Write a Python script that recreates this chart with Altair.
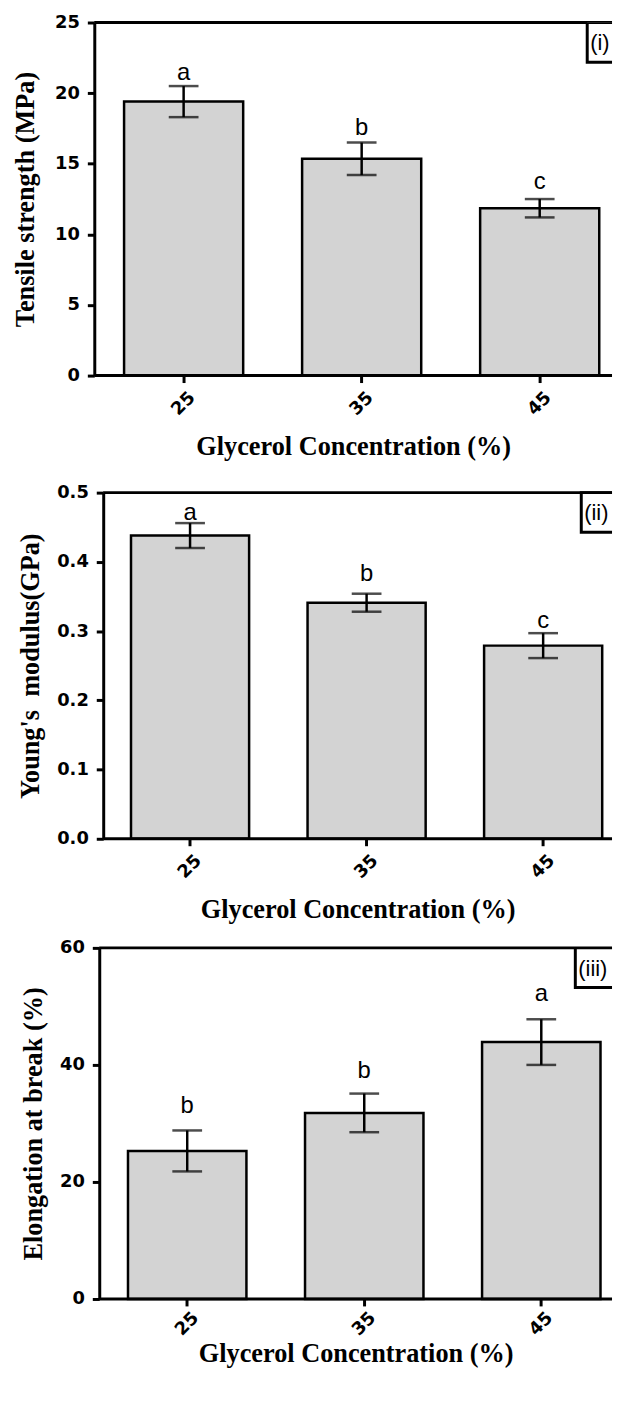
import altair as alt
import pandas as pd

# ---------------- data ----------------
concentration = ["25", "35", "45"]

tensile_mean = [19.4, 15.35, 11.85]
tensile_sd = [1.1, 1.15, 0.65]
tensile_letters = ["a", "b", "c"]
tensile_letter_y = [20.9, 17.0, 13.2]

young_mean = [0.438, 0.341, 0.279]
young_sd = [0.018, 0.013, 0.018]
young_letters = ["a", "b", "c"]
young_letter_y = [0.46, 0.372, 0.305]

elong_mean = [25.3, 31.8, 43.9]
elong_sd = [3.5, 3.3, 3.9]
elong_letters = ["b", "b", "a"]
elong_letter_y = [31.8, 37.7, 51.0]

tensile_ticks = [0, 5, 10, 15, 20, 25]
young_ticks = [0.0, 0.1, 0.2, 0.3, 0.4, 0.5]
elong_ticks = [0, 20, 40, 60]

x_title = "Glycerol Concentration (%)"

W = 522


def panel(means, sds, letters, letter_y, ticks, fmt, ytitle, tag,
          shift, top, height, p_outer, align, box_x, tpad, xlpad, xtpad):
    df = pd.DataFrame({
        "conc": concentration,
        "mean": means,
        "lo": [m - s for m, s in zip(means, sds)],
        "hi": [m + s for m, s in zip(means, sds)],
        "letter": letters,
        "ly": letter_y,
    })
    ymax = ticks[-1]
    x = alt.X(
        "conc:N", sort=concentration,
        scale=alt.Scale(range=[shift, W], paddingInner=0.331, paddingOuter=p_outer,
                        align=align),
        axis=alt.Axis(title=x_title, labelAngle=-45, labelAlign="center",
                      labelBaseline="middle", labelPadding=xlpad, domain=False,
                      titlePadding=xtpad),
    )
    yscale = alt.Scale(domain=[0, ymax], nice=False, zero=True, range=[height, top])
    y = alt.Y(
        "mean:Q", scale=yscale,
        axis=alt.Axis(title=ytitle, values=ticks, format=fmt, labelPadding=8,
                      titlePadding=tpad, offset=-shift),
    )
    xs = alt.X("conc:N", sort=concentration)
    base = alt.Chart(df)
    bars = base.mark_bar(fill="#d3d3d3", stroke="black", strokeWidth=2.5).encode(x=x, y=y)
    err = base.mark_rule(color="black", strokeWidth=2.5).encode(
        x=xs, y=alt.Y("lo:Q"), y2="hi:Q")
    cap_lo = base.mark_tick(color="black", size=30, thickness=2.5).encode(
        x=xs, y=alt.Y("lo:Q"))
    cap_hi = base.mark_tick(color="black", size=30, thickness=2.5).encode(
        x=xs, y=alt.Y("hi:Q"))
    txt = base.mark_text(font="Liberation Sans", fontSize=24, baseline="alphabetic",
                         color="black").encode(x=xs, y=alt.Y("ly:Q"), text="letter:N")
    top_rule = alt.Chart(pd.DataFrame({"v": [ymax]})).mark_rule(
        color="black", strokeWidth=3).encode(
        y=alt.Y("v:Q"), x=alt.value(shift), x2=alt.value(W))
    bottom_rule = alt.Chart(pd.DataFrame({"v": [0]})).mark_rule(
        color="black", strokeWidth=3).encode(
        y=alt.Y("v:Q"), x=alt.value(shift), x2=alt.value(W))
    box = alt.Chart(pd.DataFrame({"t": [tag]})).mark_rect(
        fill="white", stroke="black", strokeWidth=3, clip=True).encode(
        x=alt.value(box_x), x2=alt.value(W + 20), y=alt.value(top), y2=alt.value(top + 40))
    label = alt.Chart(pd.DataFrame({"t": [tag]})).mark_text(
        font="Liberation Sans", fontSize=22, align="left", baseline="middle",
        color="black", clip=True).encode(
        x=alt.value(box_x + 3), y=alt.value(top + 21), text="t:N")
    return alt.layer(bars, err, cap_lo, cap_hi, txt, top_rule, bottom_rule, box, label).properties(
        width=W, height=height)


p1 = panel(tensile_mean, tensile_sd, tensile_letters, tensile_letter_y, tensile_ticks,
           "d", "Tensile strength (MPa)", "(i)", 0, 0, 356, 0.1195, 0.70, 497, 15, 21, 15)
p2 = panel(young_mean, young_sd, young_letters, young_letter_y, young_ticks,
           ".1f", "Young's \u00a0modulus(GPa)", "(ii)", 9, 8, 357, 0.1065, 0.739, 491, 12, 21, 15)
p3 = panel(elong_mean, elong_sd, elong_letters, elong_letter_y, elong_ticks,
           "d", "Elongation at break (%)", "(iii)", 5, 0, 354, 0.1137, 0.714, 485, 12, 18, 2)

chart = alt.vconcat(p1, p2, p3, spacing=110, bounds="flush").properties(
    padding={"left": 4, "top": 0, "right": 0, "bottom": 0},
    background="white",
).configure_view(stroke=None).configure_axis(
    domainColor="black", domainWidth=3, tickColor="black", tickWidth=3, tickSize=7,
    labelFont="DejaVu Sans", labelFontWeight="bold", labelFontSize=18, labelColor="black",
    titleFont="Liberation Serif", titleFontWeight="bold", titleFontSize=26.5,
    titleColor="black", grid=False,
)

chart.save("out.html", embed_options={"renderer": "svg", "actions": False})
